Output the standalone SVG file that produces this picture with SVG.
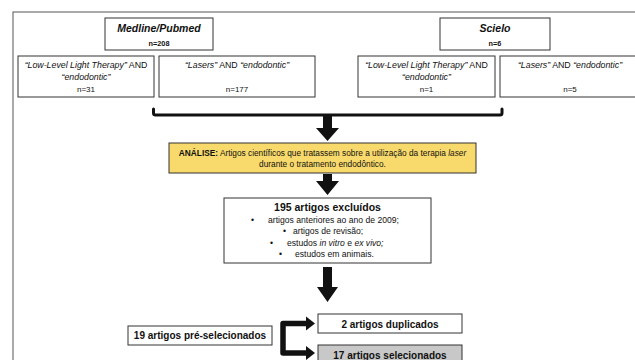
<svg xmlns="http://www.w3.org/2000/svg" width="635" height="360" viewBox="0 0 635 360">
<style>
.box{fill:#fff;stroke:#333;stroke-width:1}
.t{font-family:"Liberation Sans",Arial,sans-serif;fill:#111;text-anchor:middle}
.b{font-weight:bold}
.i{font-style:italic}
.arr{fill:#111;stroke:none}
.ln{fill:none;stroke:#111;stroke-linejoin:round;stroke-linecap:round}
</style>
<rect x="0" y="0" width="635" height="360" fill="#fff"/>
<rect x="13" y="12" width="650" height="370" fill="none" stroke="#555" stroke-width="1"/>

<g id="medline">
<rect class="box" x="105" y="18" width="108" height="32"/>
<text class="t b i" x="159" y="32" font-size="10.5">Medline/Pubmed</text>
<text class="t b" x="159" y="46" font-size="7.3">n=208</text>
</g>
<g id="medline-lllt">
<rect class="box" x="18" y="56" width="136" height="41"/>
<text class="t" x="86" y="68" font-size="8.8"><tspan class="i">“Low-Level Light Therapy”</tspan> AND</text>
<text class="t i" x="86" y="80" font-size="8.8">“endodontic”</text>
<text class="t" x="86" y="92" font-size="8">n=31</text>
</g>
<g id="medline-lasers">
<rect class="box" x="159" y="56" width="156" height="41"/>
<text class="t" x="237" y="68" font-size="8.8"><tspan class="i">“Lasers”</tspan> AND <tspan class="i">“endodontic”</tspan></text>
<text class="t" x="237" y="92" font-size="8">n=177</text>
</g>
<g id="scielo">
<rect class="box" x="440" y="18" width="110" height="32"/>
<text class="t b i" x="495" y="32" font-size="10.5">Scielo</text>
<text class="t b" x="495" y="46" font-size="7.3">n=6</text>
</g>
<g id="scielo-lllt">
<rect class="box" x="358" y="56" width="137" height="41"/>
<text class="t" x="426.5" y="68" font-size="8.8"><tspan class="i">“Low-Level Light Therapy”</tspan> AND</text>
<text class="t i" x="426.5" y="80" font-size="8.8">“endodontic”</text>
<text class="t" x="426.5" y="92" font-size="8">n=1</text>
</g>
<g id="scielo-lasers">
<rect class="box" x="500" y="56" width="150" height="41"/>
<text class="t" x="570" y="68" font-size="8.8"><tspan class="i">“Lasers”</tspan> AND <tspan class="i">“endodontic”</tspan></text>
<text class="t" x="570" y="92" font-size="8">n=5</text>
</g>
<g id="analise">
<rect x="169" y="143" width="307" height="30" fill="#F8DA6C" stroke="#333" stroke-width="1"/>
<text class="t" x="322.5" y="156" font-size="8.3"><tspan class="b">ANÁLISE:</tspan> Artigos científicos que tratassem sobre a utilização da terapia <tspan class="i">laser</tspan></text>
<text class="t" x="322.5" y="166.5" font-size="8.3">durante o tratamento endodôntico.</text>
</g>
<g id="excluidos">
<rect class="box" x="224" y="198" width="207" height="65"/>
<text class="t b" x="327.5" y="211" font-size="10.5">195 artigos excluídos</text>
<text class="t" font-size="8.6" style="text-anchor:start"><tspan x="251" y="222.5">•</tspan><tspan x="268" y="222.5">artigos anteriores ao ano de 2009;</tspan></text>
<text class="t" font-size="8.6" style="text-anchor:start"><tspan x="283" y="234">•</tspan><tspan x="293" y="234">artigos de revisão;</tspan></text>
<text class="t" font-size="8.6" style="text-anchor:start"><tspan x="270" y="245.5">•</tspan><tspan x="287" y="245.5">estudos </tspan><tspan class="i">in vitro</tspan><tspan> e </tspan><tspan class="i">ex vivo;</tspan></text>
<text class="t" font-size="8.6" style="text-anchor:start"><tspan x="279" y="257">•</tspan><tspan x="295" y="257">estudos em animais.</tspan></text>
</g>
<g id="preselecionados">
<rect class="box" x="128" y="326" width="144" height="19"/>
<text class="t b" x="200" y="339" font-size="10">19 artigos pré-selecionados</text>
</g>
<g id="duplicados">
<rect class="box" x="318" y="314" width="144" height="19"/>
<text class="t b" x="390" y="327.5" font-size="10">2 artigos duplicados</text>
</g>
<g id="selecionados">
<rect x="318" y="345" width="144" height="22" fill="#C8C8C8" stroke="#333" stroke-width="1"/>
<text class="t b" x="390" y="358.5" font-size="10">17 artigos selecionados</text>
</g>

<g id="connectors">
<path class="ln" d="M153.5,109 V113 Q153.5,115 155.5,115 H500 Q502,115 502,113 V109" stroke-width="3"/>
<polygon class="arr" points="323,115 332,115 332,128 339,128 327.5,141 316,128 323,128"/>
<polygon class="arr" points="323,174 332,174 332,181 339,181 327.5,195 316,181 323,181"/>
<polygon class="arr" points="323,267 332,267 332,287 338,287 327.5,302 317,287 323,287"/>
<path class="ln" d="M307,323.5 H283 V353 H307" stroke-width="5.5" stroke-linecap="butt" stroke-linejoin="miter"/>
<polygon class="arr" points="306,316.5 315,323.5 306,330.5"/>
<polygon class="arr" points="306,346 315,353 306,360"/>
</g>
</svg>
